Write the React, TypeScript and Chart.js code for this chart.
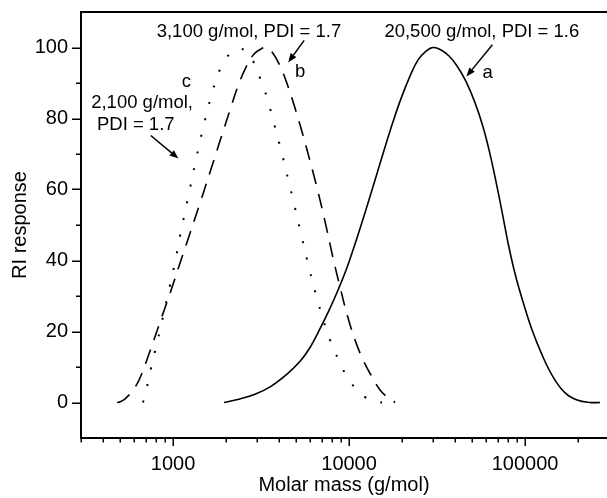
import React, { useEffect, useRef } from 'react';
import { Chart, registerables } from 'chart.js';

Chart.register(...registerables);

const FONT = '"Liberation Sans", Arial, Helvetica, sans-serif';

// Curve a (20,500 g/mol, PDI = 1.6) - solid
const massA = [1950, 2400, 2920, 3560, 4440, 5270, 6000, 6840, 7800, 8660, 9620, 10540, 11850, 13510, 15200, 17100, 19490, 22220, 24660, 27390, 30000, 33320, 37000, 41080, 46220, 51990, 57720, 63260, 68430, 74010, 80060, 87760, 97410, 109600, 124900, 144200, 168800, 197500, 234000, 266800];
const riA = [0, 1.0, 2.3, 4.4, 8.0, 11.6, 15.5, 20.8, 26.6, 31.7, 37.3, 43.0, 50.8, 59.9, 68.3, 76.5, 84.9, 92.0, 96.5, 99.0, 100, 99.3, 97.6, 94.8, 90.4, 84.4, 77.6, 69.9, 62.1, 53.7, 44.9, 36.2, 28.3, 20.4, 13.4, 7.2, 2.7, 0.7, 0, 0];

// Curve b (3,100 g/mol, PDI = 1.7) - dashed
const massB = [481, 506, 534, 593, 649, 740, 844, 962, 1096, 1249, 1424, 1623, 1849, 2108, 2341, 2599, 2885, 3162, 3377, 3651, 4002, 4385, 4870, 5408, 6003, 6667, 7401, 8111, 8891, 9870, 10960, 12170, 13510, 15000, 16660, 18260];
const riB = [0, 0.3, 1.0, 3.5, 6.9, 14.5, 22.7, 30.8, 39.3, 47.7, 56.2, 64.9, 73.7, 82.4, 89.2, 94.5, 98.2, 99.6, 100, 98.7, 95.4, 90.6, 83.8, 76.2, 68.0, 59.3, 49.7, 40.7, 32.5, 23.8, 16.8, 11.4, 7.2, 3.5, 1.3, 0];

// Curve c (2,100 g/mol, PDI = 1.7) - dotted
const massC = [675, 712, 750, 790, 844, 901, 962, 1027, 1096, 1170, 1249, 1334, 1424, 1520, 1623, 1733, 1874, 2027, 2193, 2371, 2599, 2848, 3121, 3421, 3749, 4108, 4502, 4934, 5408, 5926, 6494, 7116, 7798, 8660, 9620, 10820, 12330, 14050, 15400];
const riC = [0, 4.6, 9.7, 14.5, 20.4, 26.9, 33.1, 39.6, 46.9, 53.7, 60.4, 67.2, 73.7, 79.6, 85.2, 90.0, 94.5, 97.3, 99.0, 99.6, 99.0, 96.2, 91.4, 85.8, 78.5, 71.1, 63.0, 54.8, 46.3, 37.9, 30.3, 23.5, 17.6, 12.3, 7.7, 4.1, 1.5, 0.4, 0];

// Axes
const xTicks = [300, 400, 500, 600, 700, 800, 900, 1000, 2000, 3000, 4000, 5000, 6000, 7000, 8000, 9000, 10000, 20000, 30000, 40000, 50000, 60000, 70000, 80000, 90000, 100000, 200000];
const xMajor = [1000, 10000, 100000];
const yTicks = [-10, 0, 10, 20, 30, 40, 50, 60, 70, 80, 90, 100, 110];
const yMajor = [0, 20, 40, 60, 80, 100];
const X_MIN = 300;
const X_MAX = 292000;
const Y_MIN = -10;
const Y_MAX = 110;

// Annotations (data coordinates)
const labelTexts = ['3,100 g/mol, PDI = 1.7', '20,500 g/mol, PDI = 1.6', 'b', 'a', 'c', '2,100 g/mol,', 'PDI = 1.7'];
const labelMass = [2700, 56800, 5270, 61200, 1192, 667, 614];
const labelRI = [104.5, 104.5, 93, 92.9, 90.2, 84.4, 78.2];

const arrowFromMass = [5560, 65200, 747];
const arrowFromRI = [102, 100.8, 75.2];
const arrowToMass = [4510, 46400, 1074];
const arrowToRI = [95.8, 91.8, 68.7];

const toPts = (m: number[], v: number[]) => m.map((x, i) => ({ x, y: v[i] }));

const decorPlugin = {
  id: 'decor',
  afterDraw(chart: any) {
    const { ctx, chartArea: ca, scales } = chart;
    const xs = scales.x;
    const ys = scales.y;
    ctx.save();
    ctx.strokeStyle = '#000';
    ctx.fillStyle = '#000';
    ctx.lineCap = 'butt';

    // frame lines
    ctx.lineWidth = 2;
    ctx.beginPath();
    ctx.moveTo(ca.left, ca.top);
    ctx.lineTo(ca.right, ca.top);
    ctx.moveTo(ca.left, ca.top - 1);
    ctx.lineTo(ca.left, ca.bottom);
    ctx.lineTo(ca.right, ca.bottom);
    ctx.stroke();

    // ticks
    ctx.lineWidth = 1.5;
    ctx.beginPath();
    xTicks.forEach((v) => {
      const px = Math.round(xs.getPixelForValue(v)) + 0.25;
      const len = xMajor.includes(v) ? 8 : 4.5;
      ctx.moveTo(px, ca.bottom);
      ctx.lineTo(px, ca.bottom + len);
    });
    yTicks.forEach((v) => {
      if (v <= Y_MIN || v >= Y_MAX) return;
      const py = Math.round(ys.getPixelForValue(v)) + 0.25;
      const len = yMajor.includes(v) ? 9 : 5;
      ctx.moveTo(ca.left, py);
      ctx.lineTo(ca.left - len, py);
    });
    ctx.stroke();

    // annotation texts
    ctx.font = `18.5px ${FONT}`;
    ctx.textAlign = 'center';
    ctx.textBaseline = 'middle';
    labelTexts.forEach((t, i) => {
      ctx.fillText(t, xs.getPixelForValue(labelMass[i]), ys.getPixelForValue(labelRI[i]));
    });

    // arrows
    ctx.lineWidth = 1.5;
    arrowFromMass.forEach((_, i) => {
      const x1 = xs.getPixelForValue(arrowFromMass[i]);
      const y1 = ys.getPixelForValue(arrowFromRI[i]);
      const x2 = xs.getPixelForValue(arrowToMass[i]);
      const y2 = ys.getPixelForValue(arrowToRI[i]);
      const ang = Math.atan2(y2 - y1, x2 - x1);
      const hl = 9;
      const hw = 3.5;
      const bx = x2 - hl * Math.cos(ang);
      const by = y2 - hl * Math.sin(ang);
      ctx.beginPath();
      ctx.moveTo(x1, y1);
      ctx.lineTo(bx, by);
      ctx.stroke();
      ctx.beginPath();
      ctx.moveTo(x2, y2);
      ctx.lineTo(bx + hw * Math.sin(ang), by - hw * Math.cos(ang));
      ctx.lineTo(bx - hw * Math.sin(ang), by + hw * Math.cos(ang));
      ctx.closePath();
      ctx.fill();
    });
    ctx.restore();
  },
};

export default function App() {
  const ref = useRef<HTMLCanvasElement | null>(null);

  useEffect(() => {
    if (!ref.current) return;
    const common = {
      borderColor: '#000',
      backgroundColor: '#000',
      pointRadius: 0,
      pointHoverRadius: 0,
      fill: false,
      tension: 0.4,
    };
    const chart = new Chart(ref.current, {
      type: 'line',
      data: {
        datasets: [
          { ...common, label: 'a', data: toPts(massA, riA), borderWidth: 1.6 },
          { ...common, label: 'b', data: toPts(massB, riB), borderWidth: 1.6, borderDash: [15, 10] },
          { ...common, label: 'c', data: toPts(massC, riC), borderWidth: 2, borderDash: [2, 15] },
        ],
      },
      options: {
        animation: false,
        responsive: true,
        maintainAspectRatio: false,
        parsing: false,
        layout: { padding: { top: 12, left: 0, right: 0, bottom: 0 } },
        plugins: { legend: { display: false }, tooltip: { enabled: false } },
        scales: {
          x: {
            type: 'logarithmic',
            min: X_MIN,
            max: X_MAX,
            afterBuildTicks: (s: any) => {
              s.ticks = xTicks.map((v) => ({ value: v }));
            },
            afterFit: (s: any) => {
              s.height = 60;
              s.paddingLeft = 0;
              s.paddingRight = 0;
            },
            border: { display: false },
            grid: { display: true, drawOnChartArea: false, drawTicks: true, tickLength: 9, color: 'rgba(0,0,0,0)' },
            ticks: {
              autoSkip: false,
              maxRotation: 0,
              minRotation: 0,
              padding: 5,
              color: '#000',
              font: { family: FONT, size: 20 },
              callback: (v: any) => (xMajor.includes(Number(v)) ? String(v) : ''),
            },
            title: {
              display: true,
              text: 'Molar mass (g/mol)',
              color: '#000',
              font: { family: FONT, size: 20 },
              padding: { top: 0, bottom: 1 },
            },
          },
          y: {
            type: 'linear',
            min: Y_MIN,
            max: Y_MAX,
            afterBuildTicks: (s: any) => {
              s.ticks = yTicks.map((v) => ({ value: v }));
            },
            afterFit: (s: any) => {
              s.width = 81;
              s.paddingTop = 0;
              s.paddingBottom = 0;
            },
            border: { display: false },
            grid: { display: true, drawOnChartArea: false, drawTicks: true, tickLength: 9, color: 'rgba(0,0,0,0)' },
            ticks: {
              autoSkip: false,
              padding: 4,
              color: '#000',
              font: { family: FONT, size: 20 },
              callback: (v: any) => (yMajor.includes(Number(v)) ? String(v) : ''),
            },
            title: {
              display: true,
              text: 'RI response',
              color: '#000',
              font: { family: FONT, size: 20 },
              padding: { top: 8, bottom: 0 },
            },
          },
        },
      },
      plugins: [decorPlugin],
    });
    return () => chart.destroy();
  }, []);

  return (
    <div style={{ position: 'absolute', left: 0, top: 0, width: 607, height: 498, background: '#fff' }}>
      <canvas ref={ref} />
    </div>
  );
}
